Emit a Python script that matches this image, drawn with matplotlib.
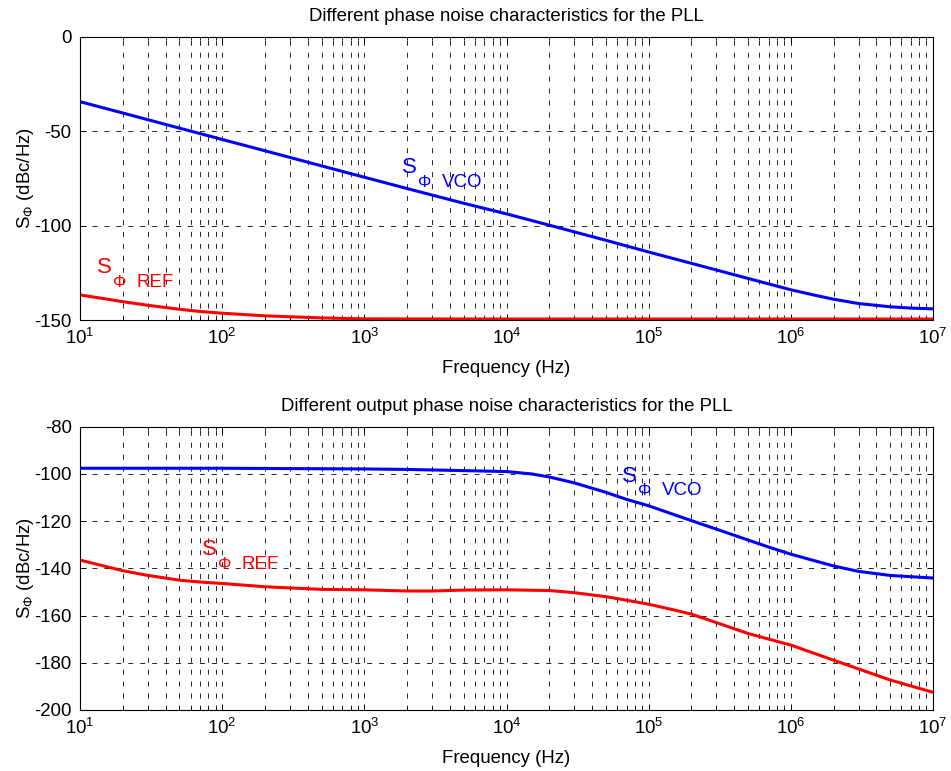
import numpy as np
import matplotlib
matplotlib.use('Agg')
import matplotlib.pyplot as plt
from matplotlib.ticker import LogLocator, NullLocator, NullFormatter

plt.rcParams['font.family'] = ['Liberation Sans', 'DejaVu Sans']
plt.rcParams['mathtext.fontset'] = 'custom'
plt.rcParams['mathtext.rm'] = 'Liberation Sans'
plt.rcParams['mathtext.it'] = 'Liberation Sans:italic'
plt.rcParams['mathtext.default'] = 'regular'
plt.rcParams['axes.unicode_minus'] = False
plt.rcParams['lines.scale_dashes'] = False

# top panel: input phase noise
f_vco_in = [10, 20, 50, 100, 200, 500, 1e3, 2e3, 5e3, 1e4, 2e4, 5e4,
            1e5, 2e5, 5e5, 1e6, 1.5e6, 2e6, 3e6, 5e6, 7e6, 1e7]
s_vco_in = [-34.4, -40.4, -48.4, -54.4, -60.4, -68.4, -74.4, -80.4, -88.2,
            -93.8, -99.8, -107.8, -114.0, -120.0, -128.0, -134.0, -137.0,
            -139.0, -141.3, -143.0, -143.7, -144.1]
f_ref_in = [10, 20, 30, 50, 70, 100, 200, 500, 1e3, 1e4, 1e5, 1e6, 1e7]
s_ref_in = [-136.7, -140.3, -142.2, -144.3, -145.5, -146.4, -147.8, -148.9,
            -149.4, -149.5, -149.5, -149.5, -149.5]

# bottom panel: output phase noise
f_vco_out = [10, 100, 1e3, 2e3, 5e3, 1e4, 1.5e4, 2e4, 3e4, 5e4, 7e4, 1e5,
             2e5, 3e5, 5e5, 7e5, 1e6, 2e6, 3e6, 5e6, 1e7]
s_vco_out = [-97.6, -97.6, -97.9, -98.1, -98.6, -99.0, -100.0, -101.3,
             -103.8, -107.8, -110.8, -113.5, -119.8, -123.4, -128.0, -131.0,
             -134.0, -139.0, -141.3, -143.0, -144.1]
f_ref_out = [10, 20, 30, 50, 70, 100, 200, 500, 1e3, 2e3, 3e3, 5e3, 1e4,
             2e4, 3e4, 5e4, 7e4, 1e5, 1.5e5, 2e5, 3e5, 5e5, 1e6, 2e6, 5e6,
             1e7]
s_ref_out = [-136.5, -141.0, -143.0, -145.0, -145.8, -146.4, -147.8, -148.9,
             -149.1, -149.6, -149.6, -149.2, -149.1, -149.4, -150.3, -152.0,
             -153.5, -155.2, -157.6, -159.4, -163.0, -167.6, -172.5, -178.9,
             -187.3, -192.5]

titles = ['Different phase noise characteristics for the PLL',
          'Different output phase noise characteristics for the PLL']
x_ticks = [1e1, 1e2, 1e3, 1e4, 1e5, 1e6, 1e7]
y_ticks_top = [-150, -100, -50, 0]
y_ticks_bottom = [-200, -180, -160, -140, -120, -100, -80]

BLUE = (0, 0, 1)
RED = (1, 0, 0)
DASH = (0, (3.6, 5.0))
FS = 13.4


def s_label(ax, f, db, name, color):
    # S, then subscript phi and name dropped below the S baseline
    ax.text(f, db, 'S', fontsize=16, color=color)
    ax.annotate('\u03a6', xy=(f, db), xytext=(11.5, -9.7),
                textcoords='offset points', fontsize=12, color=color)
    ax.annotate(name, xy=(f, db), xytext=(28.8, -9.7),
                textcoords='offset points', fontsize=13.5, color=color)


fig = plt.figure(figsize=(9.51, 7.71), dpi=100)
ax1 = fig.add_axes([80 / 951, 1 - 320 / 771, 853 / 951, 283.3 / 771])
ax2 = fig.add_axes([80 / 951, 1 - 710 / 771, 853 / 951, 283.3 / 771])

ax1.semilogx(f_vco_in, s_vco_in, color=BLUE, lw=2.2)
ax1.semilogx(f_ref_in, s_ref_in, color=RED, lw=2.2)
ax2.semilogx(f_vco_out, s_vco_out, color=BLUE, lw=2.2)
ax2.semilogx(f_ref_out, s_ref_out, color=RED, lw=2.2)

s_label(ax1, 1832, -72.3, 'VCO', BLUE)
s_label(ax1, 13.1, -125.3, 'REF', RED)
s_label(ax2, 64600, -103.3, 'VCO', BLUE)
s_label(ax2, 71.8, -134.4, 'REF', RED)

for ax, title, yt in zip([ax1, ax2], titles, [y_ticks_top, y_ticks_bottom]):
    ax.set_xlim(x_ticks[0], x_ticks[-1])
    ax.set_ylim(yt[0], yt[-1])
    ax.set_xticks(x_ticks)
    ax.set_yticks(yt)
    ax.xaxis.set_minor_locator(LogLocator(base=10, subs=np.arange(2, 10), numticks=20))
    ax.xaxis.set_minor_formatter(NullFormatter())
    ax.yaxis.set_minor_locator(NullLocator())
    ax.grid(True, which='major', color='k', lw=0.6, linestyle=DASH)
    ax.grid(True, which='minor', axis='x', color='k', lw=0.6, linestyle=DASH)
    ax.tick_params(which='both', direction='in', top=True, right=True,
                   labelsize=FS, color='k')
    ax.tick_params(which='major', length=4.5, width=0.7, pad=6)
    ax.tick_params(which='minor', length=2.5, width=0.6)
    for sp in ax.spines.values():
        sp.set_linewidth(0.8)
    ax.set_title(title, fontsize=FS, pad=11)
    ax.set_xlabel('Frequency (Hz)', fontsize=FS, labelpad=8)
    ax.set_ylabel('S$_\u03a6$ (dBc/Hz)', fontsize=FS)
    ax.yaxis.set_label_coords(-0.052, 0.5)

fig.savefig('out.png', dpi=100)
